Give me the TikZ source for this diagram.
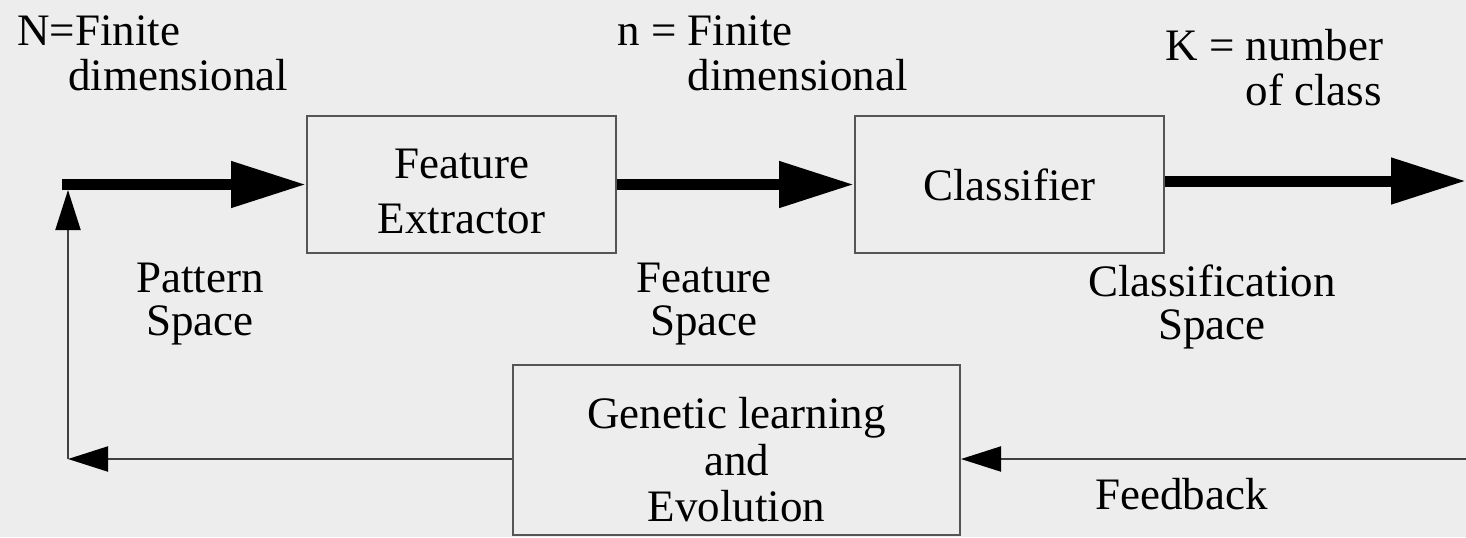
\documentclass[tikz,border=0pt]{standalone}
\usepackage{fontspec}
\setmainfont{Liberation Serif}
\usetikzlibrary{arrows.meta}
\definecolor{bg}{HTML}{EDEDED}
\definecolor{edge}{HTML}{555555}
\begin{document}
\begin{tikzpicture}[x=0.5pt,y=-0.5pt,
  every node/.style={font=\fontsize{22.5pt}{22.5pt}\selectfont},
  block/.style={draw=edge, line width=1pt, inner sep=0pt, align=center},
  lbl/.style={inner sep=0pt, font=\fontsize{22.5pt}{21.5pt}\selectfont},
  toplbl/.style={inner sep=0pt, anchor=base west, font=\fontsize{22.5pt}{22.5pt}\selectfont},
  bigarrow/.style={line width=5.5pt, -{Triangle[length=37.5pt,width=22pt]}},
  thinarrow/.style={draw=black!75, line width=1pt, -{Triangle[length=20pt,width=12.5pt,color=black]}}]

% canvas
\fill[bg] (0,0) rectangle (1466,537);
\useasboundingbox (0,0) rectangle (1466,537);

% blocks (the struts on the first lines push the text a little lower)
\node[block, minimum width=154.5pt, minimum height=68.5pt,
      font=\fontsize{22.5pt}{27.5pt}\selectfont] (fe) at (461.5,184.5)
      {\rule{0pt}{21.4pt}Feature\\Extractor};
\node[block, minimum width=154.5pt, minimum height=68.5pt] (cl) at (1009.5,184.5) {Classifier};
\node[block, minimum width=223.5pt, minimum height=85pt,
      font=\fontsize{22.5pt}{23.25pt}\selectfont] (ga) at (736.5,450)
      {\rule{0pt}{25.4pt}Genetic learning\\and\\Evolution};

% free ends of the connectors
\coordinate (src) at (62,184.5);
\coordinate (sink) at (1466,181);
\coordinate (fbin) at (1466,459);
\coordinate (corner) at (68,459);
\coordinate (up) at (68,190);

% forward path
\draw[bigarrow] (src) -- (fe.west);
\draw[bigarrow] (fe.east) -- (cl.west);
\draw[bigarrow] (cl.east |- sink) -- (sink);

% feedback loop
\draw[thinarrow] (fbin) -- (fbin -| ga.east);
\draw[thinarrow] (corner -| ga.west) -- (corner);
\draw[thinarrow] (corner) -- (up);

% dimension labels
\node[toplbl] (ndim) at (17,45) {\begin{tabular}[t]{@{}l@{}}N=Finite\\\hspace*{25.5pt}dimensional\end{tabular}};
\node[toplbl] (fdim) at (617,45) {\begin{tabular}[t]{@{}l@{}}n = Finite\\\hphantom{n = }dimensional\end{tabular}};
\node[toplbl] (kdim) at (1165,60) {\begin{tabular}[t]{@{}l@{}}K = number\\\hphantom{K = }of class\end{tabular}};

% space labels
\node[lbl, anchor=base] (ps) at (200,292) {\begin{tabular}[t]{@{}c@{}}Pattern\\Space\end{tabular}};
\node[lbl, anchor=base] (fs) at (704,292) {\begin{tabular}[t]{@{}c@{}}Feature\\Space\end{tabular}};
\node[lbl, anchor=base] (cs) at (1212,296) {\begin{tabular}[t]{@{}c@{}}Classification\\Space\end{tabular}};
\node[lbl, anchor=base west] (fb) at (1095,509) {Feedback};
\end{tikzpicture}
\end{document}
